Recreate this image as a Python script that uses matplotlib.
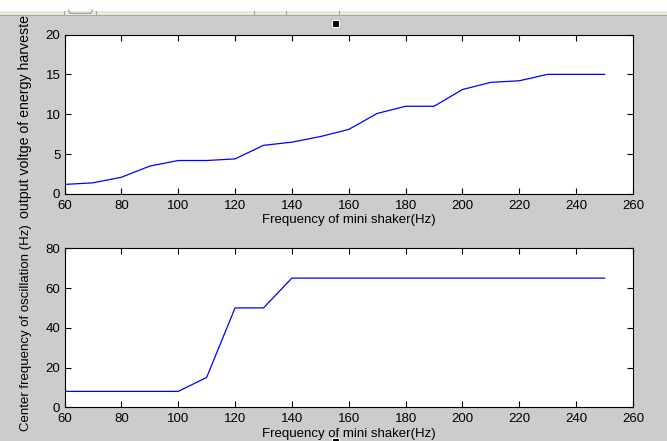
import matplotlib
matplotlib.use("Agg")
import matplotlib.pyplot as plt
from matplotlib.patches import Rectangle

# ---- data ----
freq = [60, 70, 80, 90, 100, 110, 120, 130, 140, 150, 160, 170, 180, 190, 200, 210, 220, 230, 240, 250]
voltage = [1.2, 1.4, 2.1, 3.5, 4.2, 4.2, 4.4, 6.1, 6.5, 7.2, 8.1, 10.1, 11.0, 11.0, 13.1, 14.0, 14.2, 15.0, 15.0, 15.0]
center_freq = [8, 8, 8, 8, 8, 15, 50, 50, 65, 65, 65, 65, 65, 65, 65, 65, 65, 65, 65, 65]
xticks = [60, 80, 100, 120, 140, 160, 180, 200, 220, 240, 260]
yticks1 = [0, 5, 10, 15, 20]
yticks2 = [0, 20, 40, 60, 80]
xlabel = "Frequency of mini shaker(Hz)"
ylabel1 = "output voltge of energy harvester"
ylabel2 = "Center frequency of oscillation (Hz)"

W, H = 667, 441
plt.rcParams['font.family'] = ['Liberation Sans', 'DejaVu Sans']
fig = plt.figure(figsize=(W / 100, H / 100), dpi=100, facecolor='#cccccc')

def px_axes(left, top, right, bottom, **kw):
    return fig.add_axes([left / W, 1 - bottom / H, (right - left) / W, (bottom - top) / H], **kw)

ax1 = px_axes(64.5, 34.5, 633, 194)
ax2 = px_axes(64.5, 248.3, 633, 407.3)

for ax, y, yt, yl, ylsize in ((ax1, voltage, yticks1, ylabel1, 10.2),
                               (ax2, center_freq, yticks2, ylabel2, 9.5)):
    ax.plot(freq, y, color=(0, 0, 1), lw=0.9)
    ax.set_xlim(60, 260)
    ax.set_ylim(yt[0], yt[-1])
    ax.set_xticks(xticks)
    ax.set_yticks(yt)
    ax.tick_params(direction='in', length=4.5, width=0.8, top=True, right=True,
                   labelsize=9.5, colors='black')
    ax.tick_params(axis='y', pad=3)
    ax.tick_params(axis='x', pad=4)
    for s in ax.spines.values():
        s.set_linewidth(0.8)
        s.set_color('black')
    ax.set_facecolor('white')
    ax.set_xlabel(xlabel, fontsize=9.5, labelpad=2)
    ax.set_ylabel(yl, fontsize=ylsize)

ax1.yaxis.set_label_coords(-32 / (633 - 64.5), 0.5)
ax2.yaxis.set_label_coords(-32 / (633 - 64.5), 0.5)

# ---- window chrome (toolbar strip and small markers) ----
tb = fig.add_axes([0, 0, 1, 1], zorder=10)
tb.set_xlim(0, W)
tb.set_ylim(H, 0)
tb.axis('off')
tb.patch.set_alpha(0)
tb.add_patch(Rectangle((0, 0), W, 10.7, facecolor='white', edgecolor='none'))
tb.add_patch(Rectangle((0, 10.7), W, 4.5, facecolor='#ece9d8', edgecolor='none'))
tb.add_patch(Rectangle((0, 15.0), W, 1.2, facecolor='#aca899', edgecolor='none'))
for xs in (64, 95.7, 254, 286, 339):
    tb.plot([xs, xs], [11, 14.5], color='#aca899', lw=0.8)
tb.plot([68.5, 70, 91, 92.5], [10.0, 13.3, 13.3, 10.0], color='#7f9db9', lw=0.8)
tb.add_patch(Rectangle((332, 20), 7, 7, facecolor='black', edgecolor='white', lw=0.8))
tb.add_patch(Rectangle((332, 437.5), 7, 4, facecolor='black', edgecolor='white', lw=0.8))

fig.savefig("out.png", dpi=100, facecolor=fig.get_facecolor())
